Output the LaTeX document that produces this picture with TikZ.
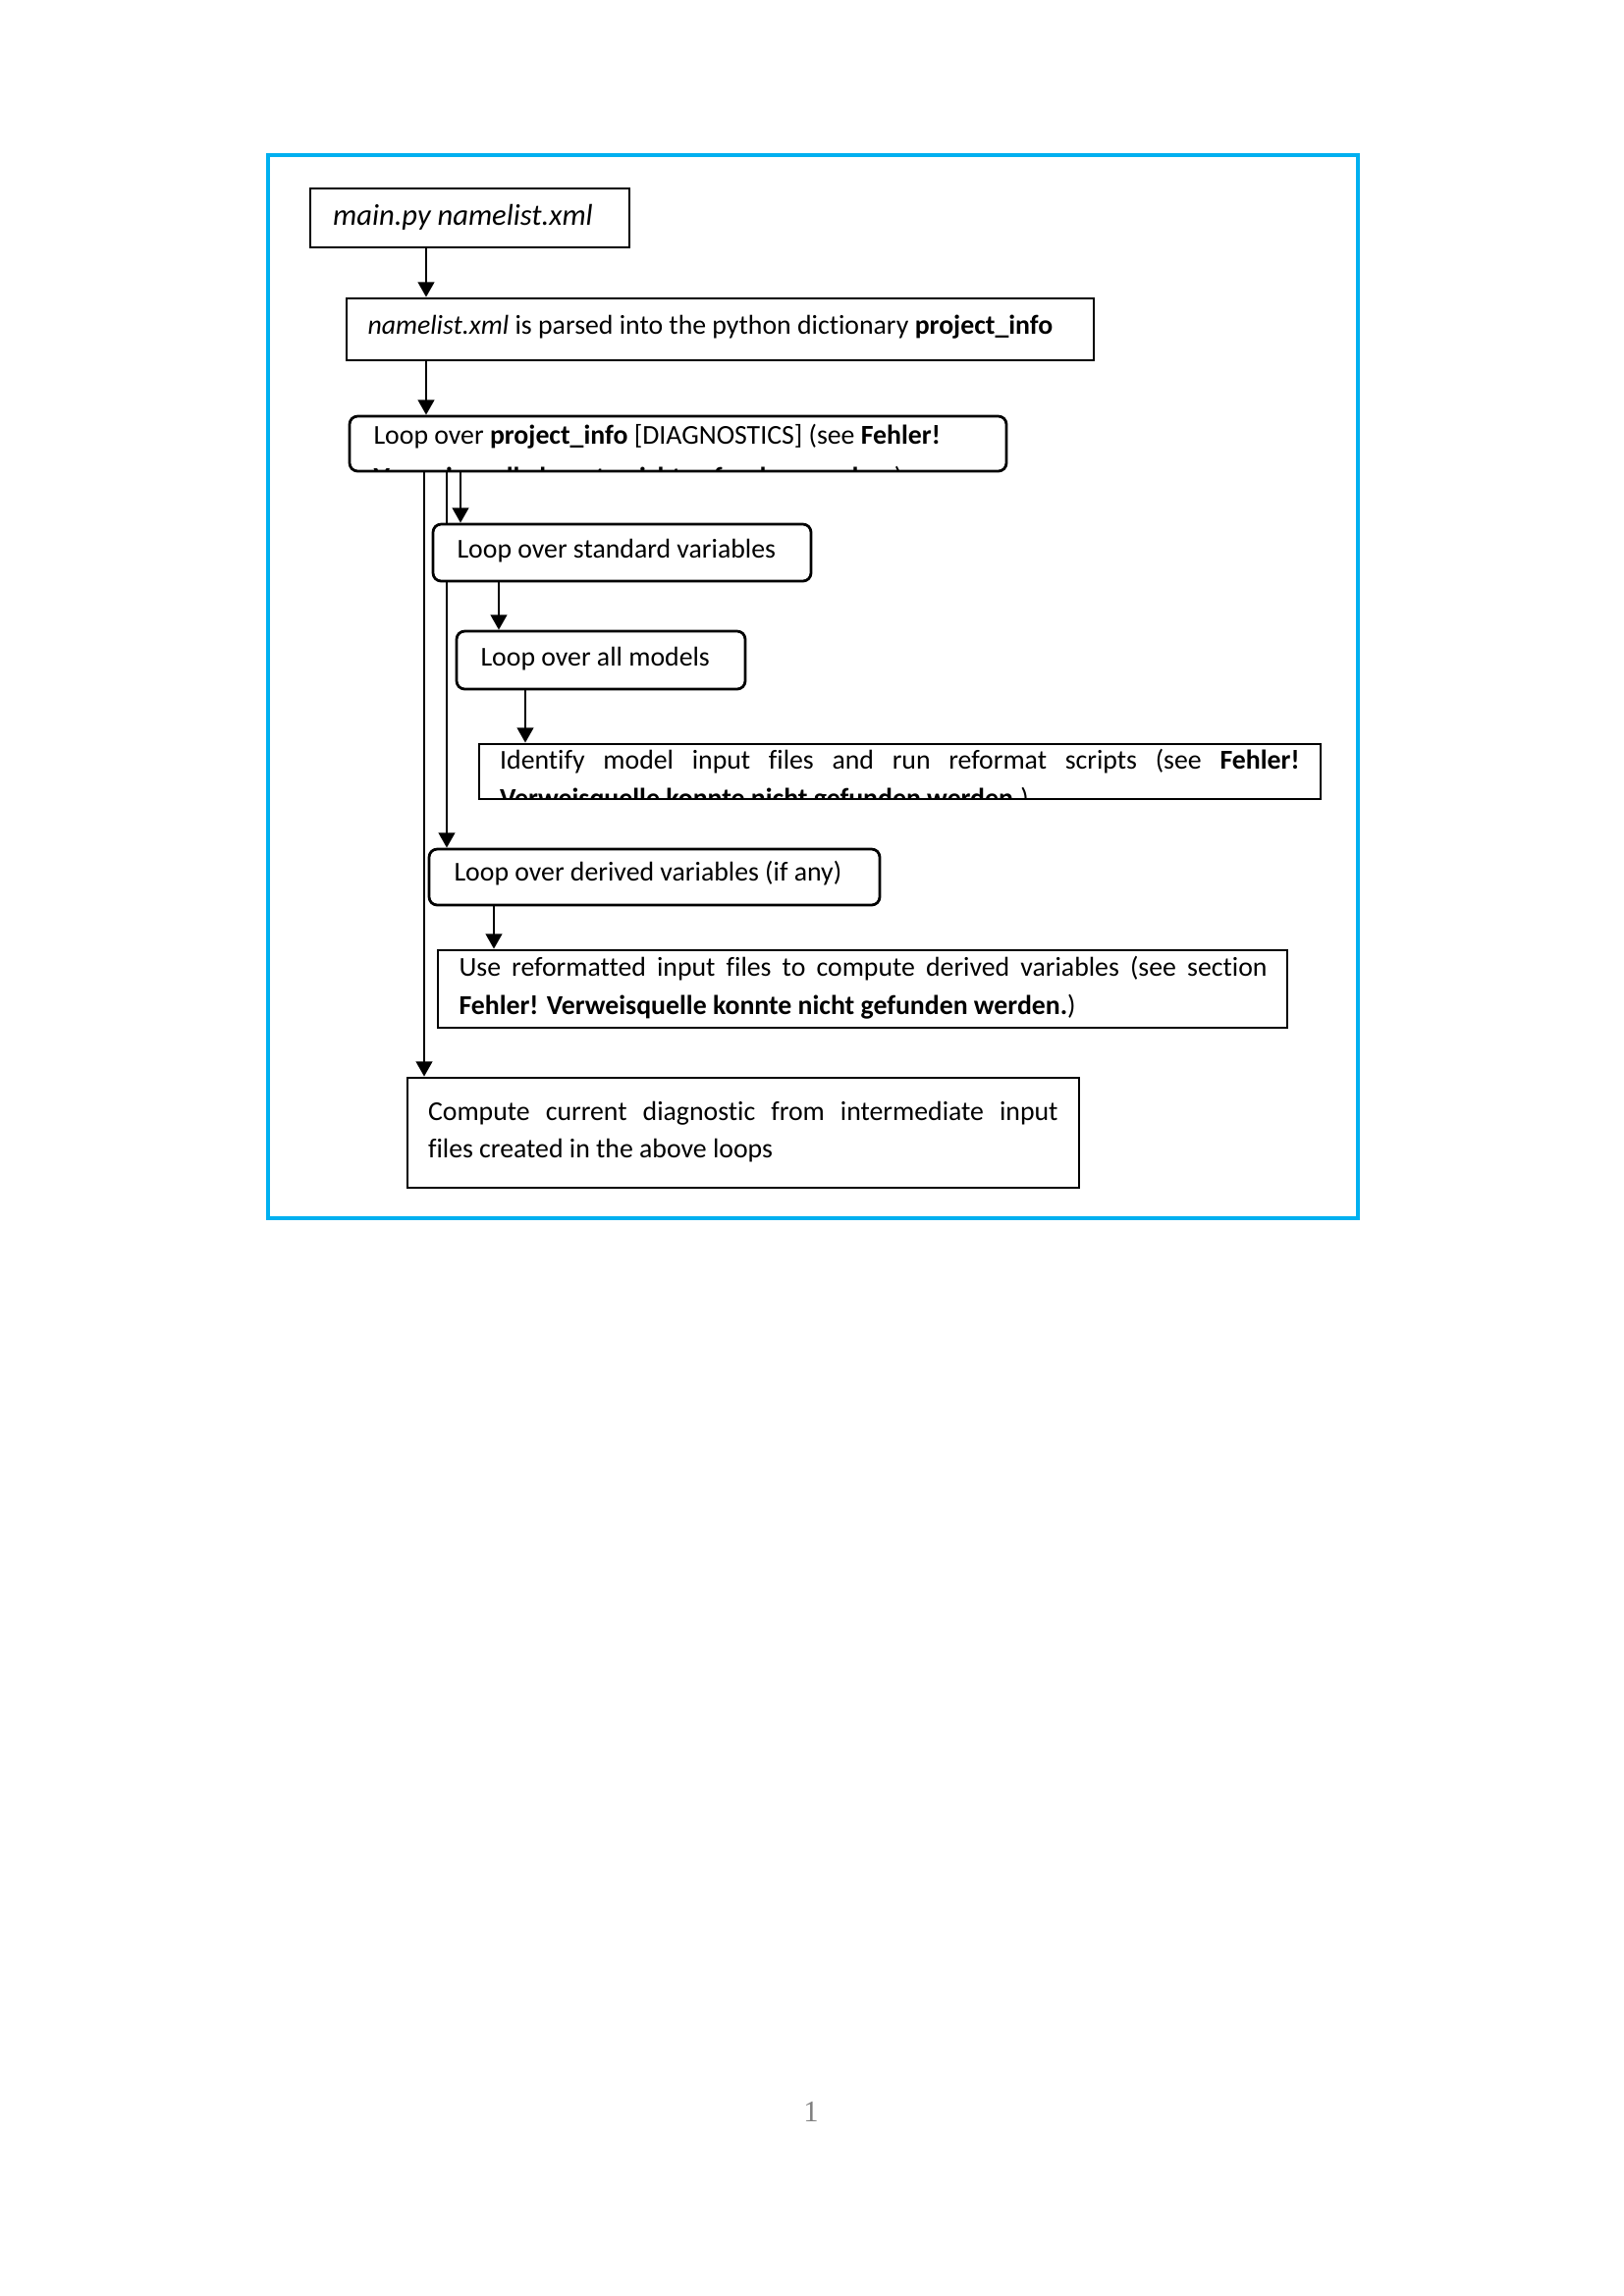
\documentclass[tikz,border=0pt]{standalone}
\usepackage{fontspec}
\setmainfont{Carlito}[Ligatures=NoCommon]
\newfontfamily\pnfont{Liberation Serif}
\usetikzlibrary{arrows.meta,backgrounds}
\def\pxu{0.3599pt}
\definecolor{frameblue}{RGB}{0,176,240}
\definecolor{pngray}{RGB}{128,128,128}
\tikzset{
  box/.style={draw=black, line width=1pt, fill=white, inner sep=0pt, rectangle},
  rbox/.style={box, rounded corners=3pt},
  txt/.style={inner sep=0pt, anchor=base west, font=\fontsize{10}{14}\selectfont},
  arr/.style={draw=black, line width=0.75pt, -{Triangle[length=5.5pt,width=6pt]}},
}
\begin{document}
\begin{tikzpicture}[x=0.3599pt, y=-0.3599pt]
\useasboundingbox (0,0) rectangle (1654,2339);

% boxes
\node[box, minimum width=325*\pxu, minimum height=60*\pxu] (main) at (478.5,222) {};
\node[box, minimum width=761*\pxu, minimum height=63*\pxu] (namel) at (733.5,335.5) {};
\node[rbox, minimum width=669*\pxu, minimum height=56*\pxu] (loopd) at (690.5,452) {};
\node[rbox, minimum width=385*\pxu, minimum height=58*\pxu] (stdv) at (633.5,563) {};
\node[rbox, minimum width=294*\pxu, minimum height=59*\pxu] (models) at (612,672.5) {};
\node[box, minimum width=857*\pxu, minimum height=56*\pxu] (ident) at (916.5,786) {};
\node[rbox, minimum width=459*\pxu, minimum height=57*\pxu] (derv) at (666.5,893.5) {};
\node[box, minimum width=865*\pxu, minimum height=79*\pxu] (usebox) at (878.5,1007.5) {};
\node[box, minimum width=684*\pxu, minimum height=112*\pxu] (comp) at (757,1154) {};

% texts
\node[txt, font=\fontsize{11}{14}\selectfont\itshape] (main-t) at (338.6,229) {main.py namelist.xml};
\node[txt] (namel-t) at (374,340) {\textit{namelist.xml} is parsed into the python dictionary \textbf{project\_info}};
\begin{scope}
  \clip[rounded corners=3pt] ([shift={(1.5,-1.5)}]loopd.south west) rectangle ([shift={(-1.5,1.5)}]loopd.north east);
  \node[txt] (loopd-t) at (380,452) {Loop over \textbf{project\_info} [DIAGNOSTICS] (see \textbf{Fehler!}};
  \node[txt] (loopd-t2) at (380,495) {\textbf{Verweisquelle konnte nicht gefunden werden.})};
\end{scope}
\node[txt] (stdv-t) at (465,568) {Loop over standard variables};
\node[txt] (models-t) at (489,678) {Loop over all models};
\begin{scope}
  \clip ([shift={(1.5,-1.5)}]ident.south west) rectangle ([shift={(-1.5,1.5)}]ident.north east);
  \node[txt] (ident-t) at (508.6,783) {\makebox[293.1pt][s]{Identify model input files and run reformat scripts (see \textbf{Fehler!}}};
  \node[txt] (ident-t2) at (508.6,822) {\textbf{Verweisquelle konnte nicht gefunden werden.})};
\end{scope}
\node[txt] (derv-t) at (462,897) {Loop over derived variables (if any)};
\node[txt] (use-t) at (467,994) {\makebox[296.2pt][s]{Use reformatted input files to compute derived variables (see section}};
\node[txt] (use-t2) at (467,1033) {\textbf{Fehler! Verweisquelle konnte nicht gefunden werden.})};
\node[txt] (comp-t) at (435.5,1141) {\makebox[230.9pt][s]{Compute current diagnostic from intermediate input}};
\node[txt] (comp-t2) at (435.5,1179) {files created in the above loops};

\node[inner sep=0pt, anchor=base, font=\fontsize{11}{13}\selectfont\pnfont, text=pngray] (pagenum) at (826,2161) {1};

% frame and connectors behind
\begin{pgfonlayer}{background}
  \fill[white] (0,0) rectangle (1654,2339);
  \draw[frameblue, line width=1.25pt] (273,158) rectangle (1383,1241);
  \draw[arr] (main.south -| 434,0) -- (namel.north -| 434,0);
  \draw[arr] (namel.south -| 434,0) -- (loopd.north -| 434,0);
  \draw[arr] (loopd.south -| 432,0) -- (comp.north -| 432,0);
  \draw[arr] (loopd.south -| 455,0) -- (derv.north -| 455,0);
  \draw[arr] (loopd.south -| 469,0) -- (stdv.north -| 469,0);
  \draw[arr] (stdv.south -| 508,0) -- (models.north -| 508,0);
  \draw[arr] (models.south -| 535,0) -- (ident.north -| 535,0);
  \draw[arr] (derv.south -| 503,0) -- (usebox.north -| 503,0);
\end{pgfonlayer}
\end{tikzpicture}
\end{document}
